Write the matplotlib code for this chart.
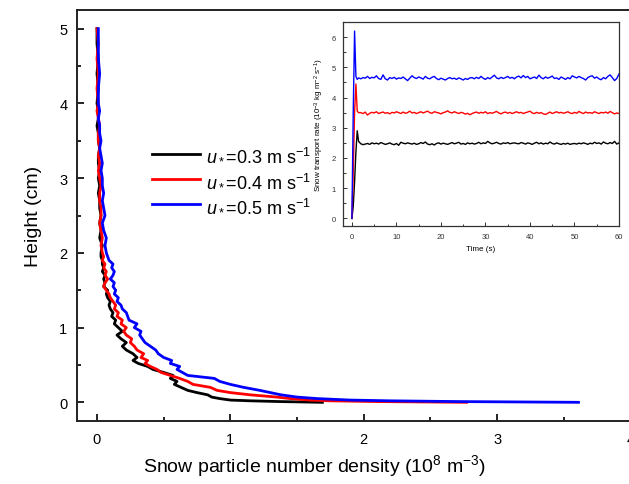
import numpy as np
import matplotlib.pyplot as plt
from matplotlib.ticker import MultipleLocator

plt.rcParams['font.family'] = 'Liberation Sans'
plt.rcParams['mathtext.fontset'] = 'custom'
plt.rcParams['mathtext.rm'] = 'Liberation Sans'
plt.rcParams['mathtext.it'] = 'Liberation Sans:italic'

# height profiles (cm) and number density (10^8 m^-3)
heights = [0.0, 0.01, 0.02, 0.03, 0.05, 0.07, 0.1, 0.13, 0.16, 0.2,
           0.24, 0.28, 0.32, 0.36, 0.4, 0.44, 0.48, 0.52, 0.56, 0.6,
           0.65, 0.7, 0.75, 0.8, 0.85, 0.9, 0.95, 1.0,
           1.05, 1.1, 1.15, 1.2, 1.25, 1.3, 1.35, 1.4, 1.45, 1.5,
           1.55, 1.6, 1.65, 1.7, 1.75, 1.8, 1.85, 1.9, 1.95, 2.0,
           2.1, 2.2, 2.3, 2.4, 2.5, 2.6, 2.7, 2.8, 2.9, 3.0,
           3.1, 3.2, 3.3, 3.4, 3.5, 3.6, 3.7, 3.8, 3.9, 4.0,
           4.2, 4.4, 4.6, 4.8, 5.0]

dens_03 = [1.69, 1.37, 1.15, 1.00, 0.92, 0.86, 0.83, 0.75, 0.68, 0.63,
           0.58, 0.60, 0.55, 0.57, 0.50, 0.42, 0.38, 0.31, 0.27, 0.30,
           0.27, 0.22, 0.19, 0.22, 0.18, 0.15, 0.19, 0.16,
           0.13, 0.14, 0.11, 0.12, 0.10, 0.09, 0.10, 0.08, 0.07, 0.08,
           0.05, 0.06, 0.05, 0.06, 0.04, 0.05, 0.04, 0.04, 0.03, 0.03,
           0.04, 0.02, 0.03, 0.02, 0.03, 0.02, 0.02, 0.01, 0.02, 0.01,
           0.02, 0.01, 0.01, 0.02, 0.01, 0.01, 0.00, 0.01, 0.01, 0.00,
           0.01, 0.00, 0.01, 0.00, 0.00]

dens_04 = [2.77, 2.10, 1.75, 1.60, 1.45, 1.35, 1.15, 1.00, 0.90, 0.85,
           0.72, 0.68, 0.62, 0.55, 0.48, 0.45, 0.40, 0.36, 0.38, 0.33,
           0.35, 0.30, 0.28, 0.25, 0.26, 0.22, 0.20, 0.22,
           0.18, 0.19, 0.15, 0.16, 0.13, 0.14, 0.12, 0.10, 0.09, 0.07,
           0.05, 0.06, 0.08, 0.06, 0.07, 0.05, 0.06, 0.04, 0.05, 0.04,
           0.03, 0.04, 0.03, 0.02, 0.03, 0.03, 0.02, 0.02, 0.03, 0.02,
           0.01, 0.02, 0.01, 0.02, 0.01, 0.01, 0.02, 0.01, 0.00, 0.01,
           0.00, 0.01, 0.00, 0.01, 0.00]

dens_05 = [3.61, 2.70, 2.20, 1.90, 1.65, 1.50, 1.38, 1.30, 1.22, 1.10,
           1.00, 0.92, 0.88, 0.68, 0.64, 0.60, 0.62, 0.55, 0.56, 0.50,
           0.46, 0.44, 0.40, 0.36, 0.34, 0.32, 0.33, 0.28,
           0.30, 0.24, 0.23, 0.22, 0.19, 0.18, 0.15, 0.16, 0.13, 0.14,
           0.12, 0.13, 0.10, 0.12, 0.13, 0.11, 0.12, 0.09, 0.08, 0.07,
           0.06, 0.07, 0.05, 0.04, 0.06, 0.05, 0.04, 0.05, 0.04, 0.04,
           0.03, 0.04, 0.03, 0.02, 0.03, 0.02, 0.02, 0.01, 0.02, 0.01,
           0.01, 0.02, 0.01, 0.01, 0.01]

# inset: transport rate (10^-3 kg m^-2 s^-1) vs time (s)
t_ramp = [0.0, 0.3, 0.6, 0.9, 1.2, 1.5]
t_steady = np.arange(2.0, 60.01, 0.5)

q_ramp_03 = [0.0, 0.4, 1.2, 2.2, 2.9, 2.55]
q_ramp_04 = [0.0, 1.5, 3.5, 4.45, 3.55, 3.5]
q_ramp_05 = [0.0, 3.5, 6.2, 4.7, 4.6, 4.65]

q_03 = [2.47, 2.44, 2.46, 2.48, 2.45, 2.50, 2.47, 2.49, 2.46, 2.51,
        2.48, 2.45, 2.47, 2.50, 2.46, 2.44, 2.48, 2.42, 2.52, 2.49,
        2.47, 2.50, 2.48, 2.46, 2.49, 2.45, 2.47, 2.51, 2.48, 2.53,
        2.46, 2.44, 2.47, 2.43, 2.48, 2.50, 2.46, 2.49, 2.47, 2.45,
        2.48, 2.51, 2.47, 2.49, 2.52, 2.46, 2.48, 2.45, 2.50, 2.47,
        2.49, 2.46, 2.48, 2.52, 2.47, 2.50, 2.48, 2.55, 2.50, 2.47,
        2.49, 2.52, 2.48, 2.46, 2.50, 2.48, 2.51, 2.47, 2.49, 2.50,
        2.48, 2.47, 2.51, 2.49, 2.46, 2.50, 2.48, 2.45, 2.49, 2.52,
        2.47, 2.50, 2.46, 2.49, 2.47, 2.53, 2.48, 2.46, 2.50, 2.47,
        2.45, 2.48, 2.46, 2.49, 2.45, 2.47, 2.48, 2.46, 2.49, 2.47,
        2.50, 2.48, 2.45, 2.49, 2.47, 2.52, 2.48, 2.50, 2.46, 2.53,
        2.49, 2.47, 2.51, 2.48, 2.55, 2.46, 2.50]

q_04 = [3.50, 3.47, 3.52, 3.42, 3.48, 3.51, 3.49, 3.53, 3.47, 3.50,
        3.52, 3.48, 3.50, 3.46, 3.51, 3.49, 3.53, 3.50, 3.47, 3.52,
        3.48, 3.50, 3.55, 3.49, 3.51, 3.47, 3.50, 3.53, 3.49, 3.52,
        3.55, 3.50, 3.48, 3.53, 3.51, 3.49, 3.46, 3.50, 3.52, 3.56,
        3.51, 3.49, 3.53, 3.50, 3.47, 3.51, 3.49, 3.45, 3.48, 3.43,
        3.47, 3.50, 3.52, 3.48, 3.51, 3.49, 3.53, 3.47, 3.50, 3.48,
        3.51, 3.54, 3.49, 3.46, 3.50, 3.52, 3.48, 3.51, 3.47, 3.50,
        3.53, 3.49, 3.51, 3.47, 3.50, 3.52, 3.55, 3.49, 3.47, 3.51,
        3.48, 3.50, 3.46, 3.44, 3.48, 3.52, 3.47, 3.50, 3.53, 3.49,
        3.51, 3.48, 3.50, 3.53, 3.49, 3.47, 3.51, 3.48, 3.54, 3.50,
        3.47, 3.52, 3.49, 3.50, 3.48, 3.53, 3.50, 3.47, 3.51, 3.49,
        3.52, 3.48, 3.54, 3.50, 3.46, 3.49, 3.47]

q_05 = [4.62, 4.66, 4.64, 4.70, 4.63, 4.67, 4.65, 4.72, 4.63, 4.60,
        4.75, 4.62, 4.58, 4.66, 4.63, 4.67, 4.61, 4.65, 4.63, 4.68,
        4.62, 4.56, 4.64, 4.72, 4.66, 4.63, 4.68, 4.65, 4.61, 4.70,
        4.64, 4.62, 4.67, 4.70, 4.63, 4.59, 4.64, 4.61, 4.58, 4.63,
        4.66, 4.62, 4.64, 4.60, 4.65, 4.62, 4.58, 4.63, 4.60, 4.65,
        4.66, 4.62, 4.67, 4.63, 4.70, 4.64, 4.60, 4.66, 4.62, 4.68,
        4.74, 4.65, 4.62, 4.67, 4.63, 4.66, 4.70, 4.64, 4.67, 4.62,
        4.68, 4.71, 4.65, 4.73, 4.66, 4.70, 4.62, 4.65, 4.68, 4.63,
        4.74, 4.66, 4.62, 4.68, 4.64, 4.67, 4.71, 4.63, 4.65, 4.60,
        4.68, 4.64, 4.60, 4.66, 4.62, 4.72, 4.68, 4.65, 4.70, 4.66,
        4.63, 4.58, 4.66, 4.70, 4.72, 4.64, 4.68, 4.62, 4.59, 4.66,
        4.62, 4.70, 4.75, 4.66, 4.56, 4.63, 4.78]

labels = [r'$u_*$=0.3 m s$^{-1}$', r'$u_*$=0.4 m s$^{-1}$', r'$u_*$=0.5 m s$^{-1}$']
colors = ['black', '#ff0000', '#0000ff']

fig = plt.figure(figsize=(6.29, 4.85), dpi=100)
ax = fig.add_axes([0.1224, 0.1299, 0.933, 0.8474])

for d, c, lab in zip([dens_03, dens_04, dens_05], colors, labels):
    ax.plot(d, heights, color=c, lw=2.0, label=lab)

ax.set_xlim(-0.15, 4.25)
ax.set_ylim(-0.25, 5.25)
ax.xaxis.set_major_locator(MultipleLocator(1))
ax.xaxis.set_minor_locator(MultipleLocator(0.5))
ax.yaxis.set_major_locator(MultipleLocator(1))
ax.yaxis.set_minor_locator(MultipleLocator(0.5))
ax.tick_params(which='both', direction='in', width=1.2, labelsize=10.5)
ax.tick_params(which='major', length=5)
ax.tick_params(which='minor', length=3)
ax.tick_params(axis='y', pad=7)
ax.tick_params(axis='x', pad=8)
for s in ax.spines.values():
    s.set_linewidth(1.4)
    s.set_color('#222222')
ax.set_xlabel('Snow particle number density (10$^{8}$ m$^{-3}$)', fontsize=14)
ax.set_ylabel('Height (cm)', fontsize=14, labelpad=12)
ax.xaxis.set_label_coords(0.405, -0.075, transform=ax.transAxes)

ax.legend(loc='center left', bbox_to_anchor=(0.115, 0.584), frameon=False, fontsize=13,
          handlelength=2.7, handletextpad=0.3, labelspacing=0.45, borderaxespad=0)

# inset
axi = fig.add_axes([0.5453, 0.532, 0.4388, 0.4206])
for r, q, c in zip([q_ramp_03, q_ramp_04, q_ramp_05], [q_03, q_04, q_05], colors):
    axi.plot(list(t_ramp) + list(t_steady), r + q, color=c, lw=1.0)
axi.set_xlim(-2, 60)
axi.set_ylim(-0.25, 6.5)
axi.xaxis.set_major_locator(MultipleLocator(10))
axi.xaxis.set_minor_locator(MultipleLocator(5))
axi.yaxis.set_major_locator(MultipleLocator(1))
axi.yaxis.set_minor_locator(MultipleLocator(0.5))
axi.tick_params(which='both', direction='in', width=0.7, labelsize=5.5, colors='#333333')
axi.tick_params(which='major', length=3)
axi.tick_params(which='minor', length=1.8)
axi.tick_params(axis='y', pad=5)
axi.tick_params(axis='x', pad=5)
for s in axi.spines.values():
    s.set_linewidth(0.9)
    s.set_color('#333333')
axi.set_xlabel('Time (s)', fontsize=5.8, labelpad=4)
axi.set_ylabel(r'Snow transport rate (10$^{-3}$ kg m$^{-2}$ s$^{-1}$)', fontsize=5.8, labelpad=4)

fig.savefig('out.png', dpi=100)
